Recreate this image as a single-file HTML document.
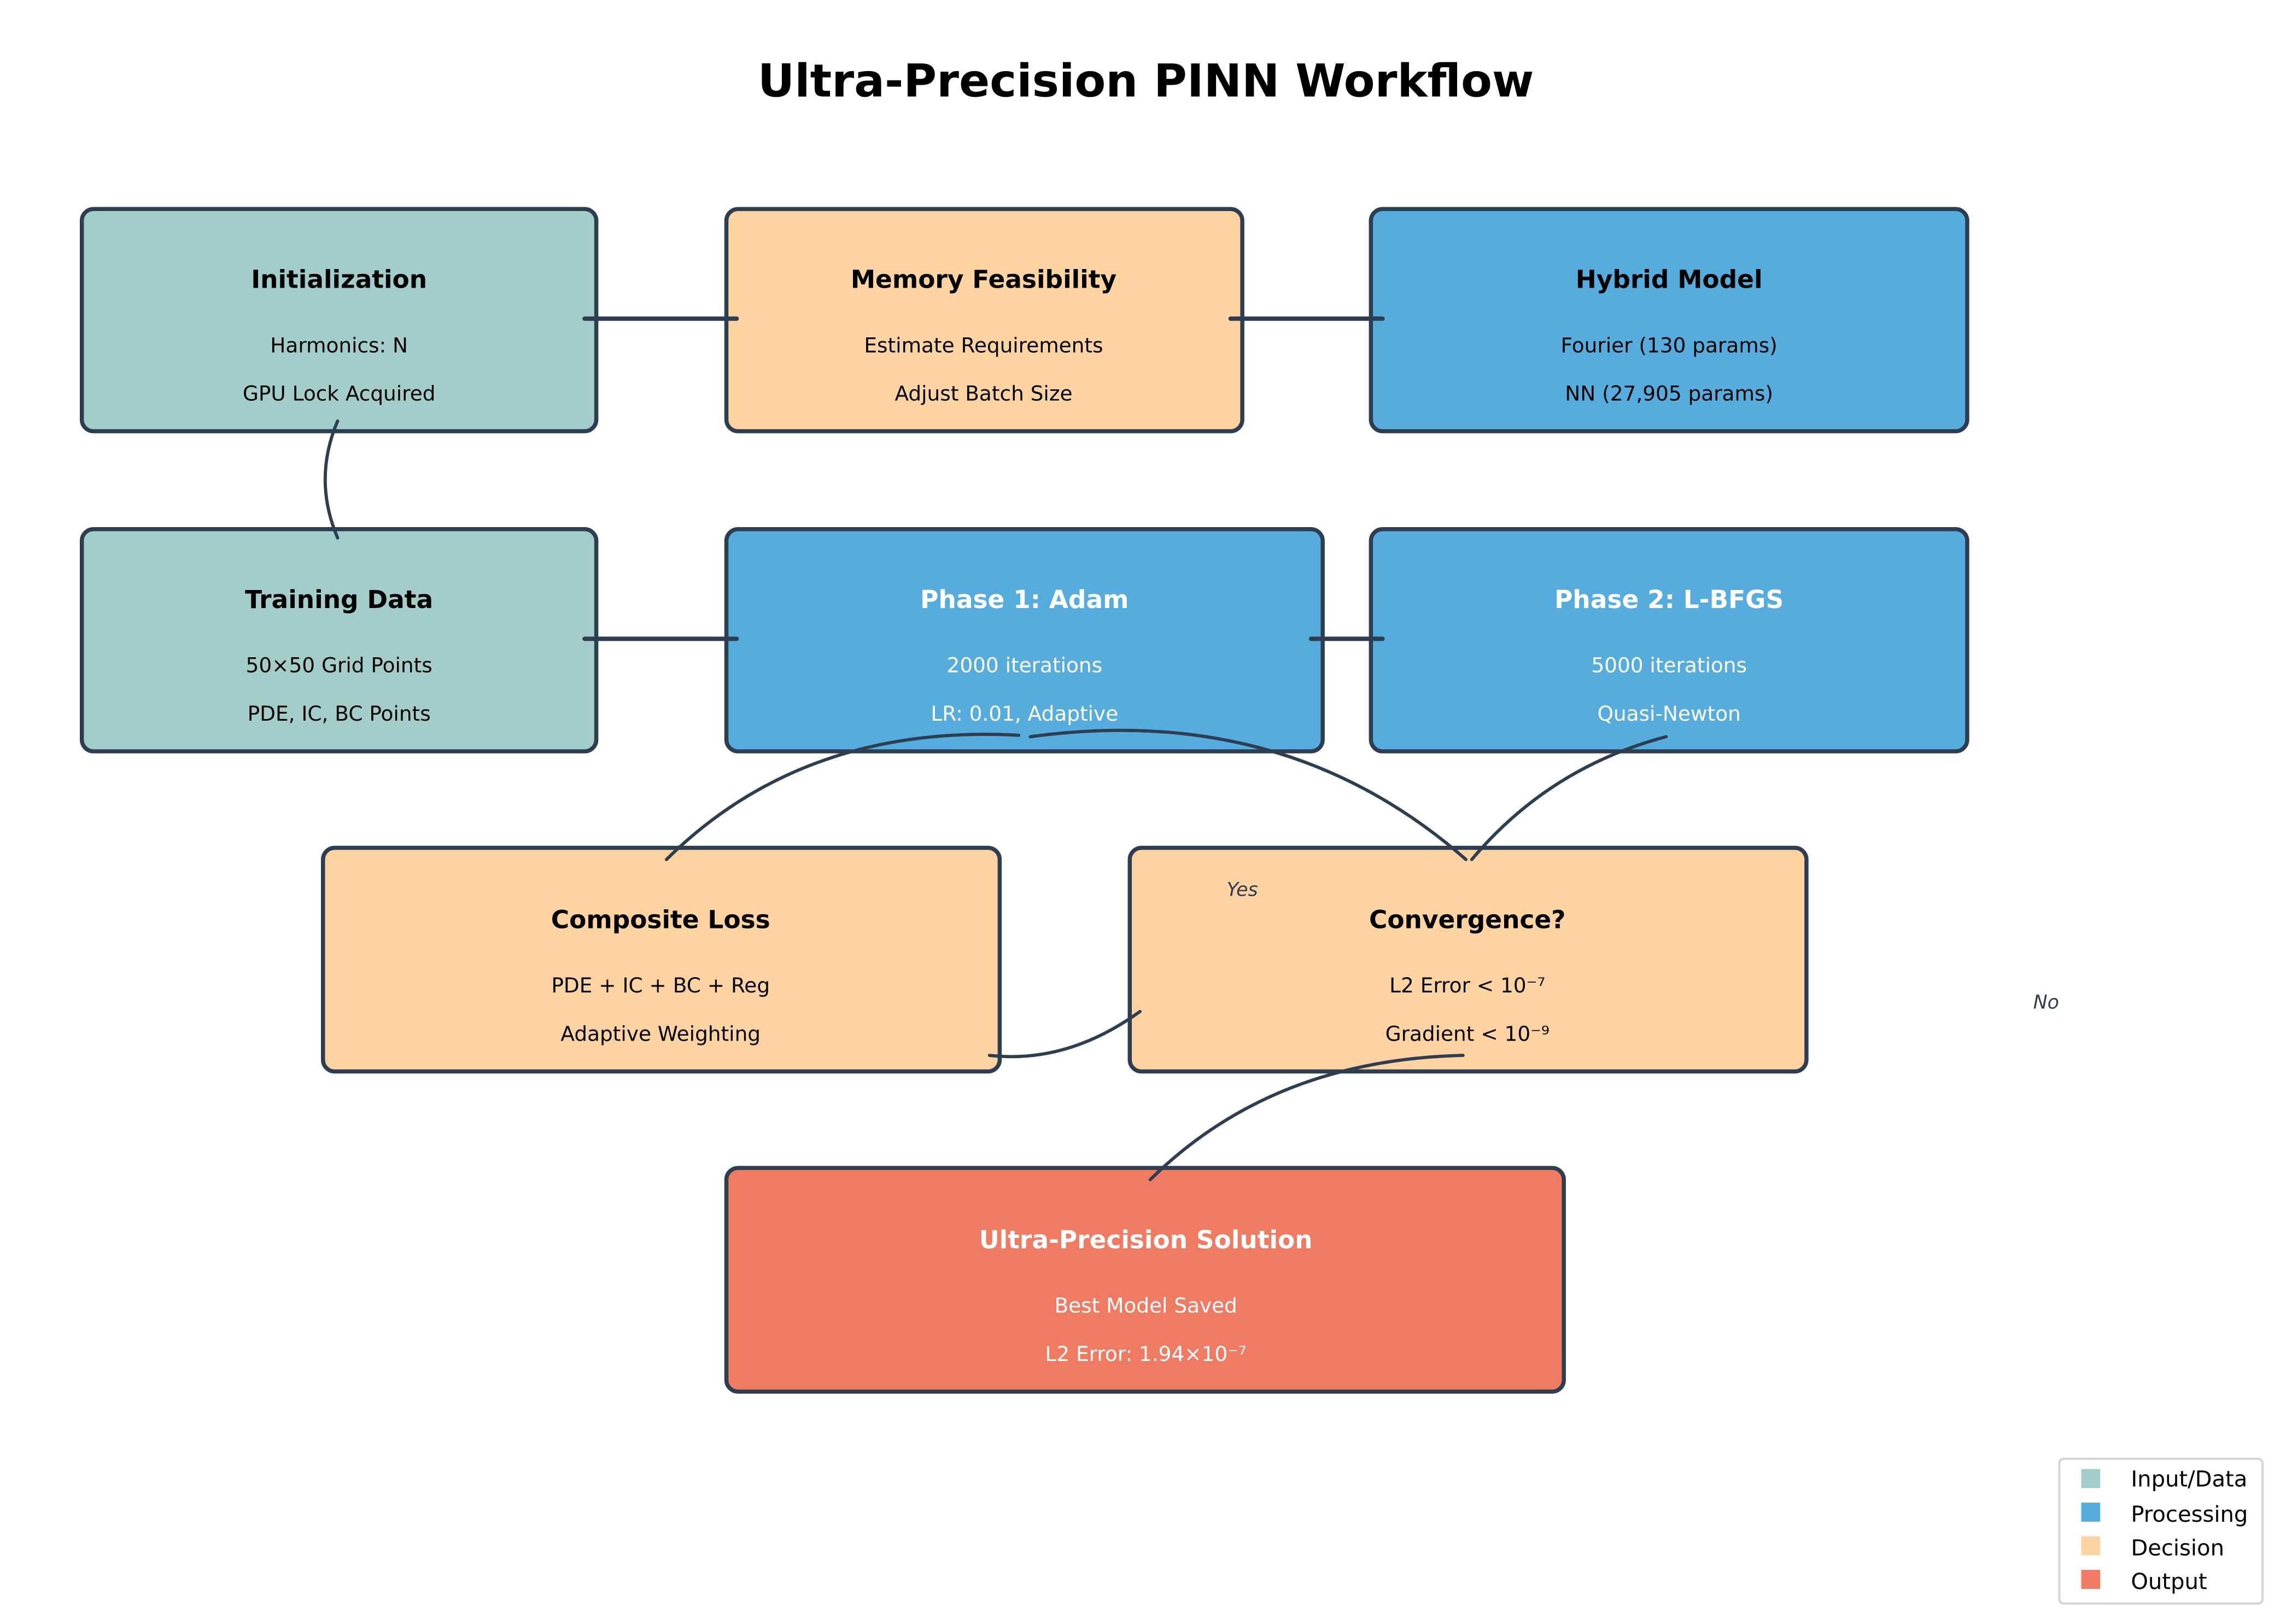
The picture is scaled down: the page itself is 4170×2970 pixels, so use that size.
<!DOCTYPE html>
<html><head><meta charset="utf-8"><style>
html,body{margin:0;padding:0;background:#fff;}
svg{display:block;}
text{font-family:"DejaVu Sans","Liberation Sans",sans-serif;}
</style></head><body>
<svg width="4170" height="2970" viewBox="0 0 1560 1111" preserveAspectRatio="none" xmlns="http://www.w3.org/2000/svg">
<rect width="1560" height="1111" fill="#fff"/>
<text x="784" y="66" font-size="31" font-weight="bold" text-anchor="middle" fill="#000">Ultra-Precision PINN Workflow</text>
<g stroke="#2c3e50" stroke-width="2.8">
<rect x="56" y="143" width="352" height="152" rx="8" fill="#a2cdca"/>
<rect x="497" y="143" width="353" height="152" rx="8" fill="#fcd3a1"/>
<rect x="938" y="143" width="408" height="152" rx="8" fill="#56addd"/>
<rect x="56" y="362" width="352" height="152" rx="8" fill="#a2cdca"/>
<rect x="497" y="362" width="408" height="152" rx="8" fill="#56addd"/>
<rect x="938" y="362" width="408" height="152" rx="8" fill="#56addd"/>
<rect x="221" y="580" width="463" height="153" rx="8" fill="#fcd3a1"/>
<rect x="773" y="580" width="463" height="153" rx="8" fill="#fcd3a1"/>
<rect x="497" y="799" width="573" height="153" rx="8" fill="#ee7b62"/>
</g>
<g font-size="17" font-weight="bold" text-anchor="middle">
<text x="232" y="197">Initialization</text>
<text x="673" y="197">Memory Feasibility</text>
<text x="1142" y="197">Hybrid Model</text>
<text x="232" y="416">Training Data</text>
<text x="701" y="416" fill="#fff">Phase 1: Adam</text>
<text x="1142" y="416" fill="#fff">Phase 2: L-BFGS</text>
<text x="452" y="635">Composite Loss</text>
<text x="1004" y="635">Convergence?</text>
<text x="784" y="854" fill="#fff">Ultra-Precision Solution</text>
</g>
<g font-size="14" text-anchor="middle">
<text x="232" y="241">Harmonics: N</text>
<text x="232" y="274">GPU Lock Acquired</text>
<text x="673" y="241">Estimate Requirements</text>
<text x="673" y="274">Adjust Batch Size</text>
<text x="1142" y="241">Fourier (130 params)</text>
<text x="1142" y="274">NN (27,905 params)</text>
<text x="232" y="460">50×50 Grid Points</text>
<text x="232" y="493">PDE, IC, BC Points</text>
<text x="701" y="460" fill="#fff">2000 iterations</text>
<text x="701" y="493" fill="#fff">LR: 0.01, Adaptive</text>
<text x="1142" y="460" fill="#fff">5000 iterations</text>
<text x="1142" y="493" fill="#fff">Quasi-Newton</text>
<text x="452" y="679">PDE + IC + BC + Reg</text>
<text x="452" y="712">Adaptive Weighting</text>
<text x="1004" y="679">L2 Error &lt; 10⁻⁷</text>
<text x="1004" y="712">Gradient &lt; 10⁻⁹</text>
<text x="784" y="898" fill="#fff">Best Model Saved</text>
<text x="784" y="931" fill="#fff">L2 Error: 1.94×10⁻⁷</text>
</g>
<g stroke="#2c3e50" stroke-width="2.2" fill="none" stroke-linecap="round">
<path d="M400 218 L504 218" stroke-width="3"/>
<path d="M842 218 L946 218" stroke-width="3"/>
<path d="M400 437 L504 437" stroke-width="3"/>
<path d="M897 437 L946 437" stroke-width="3"/>
<path d="M231 288 Q214 328 231 368"/>
<path d="M697 503 Q550 495 456 588"/>
<path d="M705 504 Q880 480 1003 588"/>
<path d="M1140 504 Q1060 525 1007 588"/>
<path d="M677 722 Q730 728 780 692"/>
<path d="M1001 722 Q870 725 787 807"/>
</g>
<text x="850" y="613" font-size="13" font-style="italic" text-anchor="middle" fill="#2c3e50">Yes</text>
<text x="1400" y="690" font-size="13" font-style="italic" text-anchor="middle" fill="#2c3e50">No</text>
<rect x="1409" y="998" width="139" height="99" rx="3" fill="#fff" stroke="#d5d5d5" stroke-width="1.5"/>
<rect x="1424" y="1005" width="13" height="13" fill="#a2cdca"/>
<rect x="1424" y="1028" width="13" height="13" fill="#56addd"/>
<rect x="1424" y="1051" width="13" height="13" fill="#fcd3a1"/>
<rect x="1424" y="1074" width="13" height="13" fill="#ee7b62"/>
<g font-size="15">
<text x="1458" y="1017">Input/Data</text>
<text x="1458" y="1041">Processing</text>
<text x="1458" y="1064">Decision</text>
<text x="1458" y="1087">Output</text>
</g>
</svg>
</body></html>
